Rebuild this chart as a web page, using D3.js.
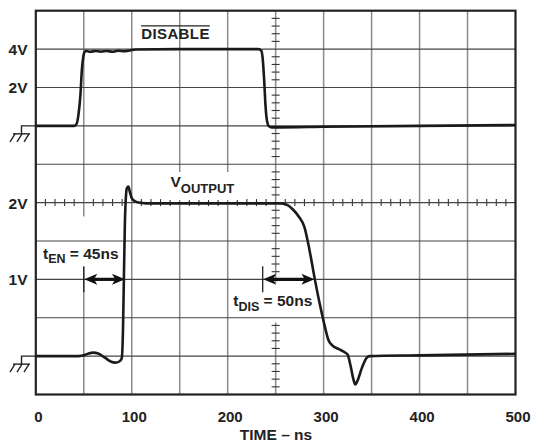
<!DOCTYPE html>
<html>
<head>
<meta charset="utf-8">
<script src="https://cdn.jsdelivr.net/npm/d3@7"></script>
<style>
  html, body { margin: 0; padding: 0; background: #fff; }
  svg { display: block; }
  text { font-family: "Liberation Sans", Arial, Helvetica, sans-serif; font-weight: bold; fill: #222; }
</style>
</head>
<body>
<div id="chart"></div>
<script>
// ---------------- DATA ----------------
const timeTicks = [0, 100, 200, 300, 400, 500];            // ns
const gridTimes = [50, 100, 150, 200, 250, 300, 350, 400, 450];

// DISABLE trace (top, 2 V/div)
const disableTime = [0, 40, 42.5, 44.5, 46.5, 48, 49.5, 51, 53, 57, 62, 68, 74, 80, 86, 92, 98, 104, 150, 232, 235, 236.5, 238, 239.5, 241, 243, 246, 253, 300, 400, 500];
const disableVolt = [0, 0, 0.1, 0.6, 1.6, 2.9, 3.6, 3.86, 3.9, 3.86, 3.9, 3.87, 3.9, 3.86, 3.91, 3.89, 3.93, 3.98, 4.0, 4.0, 3.92, 3.5, 2.4, 1.0, 0.25, -0.02, -0.08, -0.08, -0.05, 0.0, 0.04];

// VOUTPUT trace (bottom, 0.5 V/div)
const outputTime = [0, 45, 50, 55, 60, 65, 72, 78, 83, 87, 89.5, 90.8, 91.8, 92.8, 93.8, 95, 96.5, 98, 100, 103, 107, 115, 200, 255, 262, 268, 274, 280, 285, 291, 297, 301, 305, 309, 316, 322, 325, 328, 331, 333, 335, 340, 345, 348, 400, 500];
const outputVolt = [0, 0, 0.01, 0.035, 0.045, 0.035, -0.02, -0.07, -0.085, -0.07, -0.03, 0.3, 1.0, 1.7, 2.05, 2.19, 2.21, 2.14, 2.06, 2.02, 2.0, 1.99, 1.99, 1.99, 1.97, 1.91, 1.82, 1.68, 1.4, 0.99, 0.62, 0.4, 0.21, 0.14, 0.09, 0.05, 0.02, -0.12, -0.3, -0.37, -0.33, -0.15, -0.02, 0.0, 0.01, 0.03];

const topVLabels = ["4V", "2V"];
const topVValues = [4, 2];
const botVLabels = ["2V", "1V"];
const botVValues = [2, 1];

const annoNames = ["EN", "DIS"];
const annoValues = ["= 45ns", "= 50ns"];
const annoStart = [50, 236.5];   // ns
const annoEnd = [93.5, 291];     // ns
const annoLevel = [1, 1];        // V on output trace

const titleTop = "DISABLE";
const xTitle = "TIME – ns";

// ---------------- LAYOUT ----------------
const W = 533, H = 442;
const L = 35.8, R = 515.5, T = 10.7, B = 394.5;

const svg = d3.select("#chart").append("svg").attr("width", W).attr("height", H);

const x = d3.scaleLinear().domain([0, 500]).range([L, R]);
const div = d3.scaleLinear().domain([0, 10]).range([T, B]);
// top trace: ground at division 3, 2 V/div
const yTop = d3.scaleLinear().domain([0, 2]).range([div(3), div(2)]);
// bottom trace: ground at division 9, 0.5 V/div
const yOut = d3.scaleLinear().domain([0, 0.5]).range([div(9), div(8)]);

const gGrid = svg.append("g");

// vertical grid lines
gGrid.selectAll("line.v").data(gridTimes).join("line")
  .attr("x1", d => x(d)).attr("x2", d => x(d))
  .attr("y1", T).attr("y2", B)
  .attr("stroke", "#8a8a8a").attr("stroke-width", 1.5);

// minor ticks on centre vertical (t=250), 5 per division
const vTicks = d3.range(0, 10.001, 0.2).filter(d => Math.abs(d - Math.round(d)) > 1e-6);
gGrid.selectAll("line.vt").data(vTicks).join("line")
  .attr("x1", x(250) - 4).attr("x2", x(250) + 4)
  .attr("y1", d => div(d)).attr("y2", d => div(d))
  .attr("stroke", "#333").attr("stroke-width", 1.1);

// minor ticks on centre horizontal (division 5), every 10 ns
const hTicks = d3.range(0, 500.001, 10).filter(d => d % 50 !== 0);
gGrid.selectAll("line.ht").data(hTicks).join("line")
  .attr("x1", d => x(d)).attr("x2", d => x(d))
  .attr("y1", div(5) - 3.5).attr("y2", div(5) + 3.5)
  .attr("stroke", "#333").attr("stroke-width", 1.1);

// gaps in vertical lines near annotation labels
gGrid.append("rect").attr("x", x(50) - 4).attr("width", 8)
  .attr("y", yOut(1.82)).attr("height", yOut(1.16) - yOut(1.82)).attr("fill", "#fff");
gGrid.append("rect").attr("x", x(250) - 6).attr("width", 12)
  .attr("y", yOut(0.95)).attr("height", yOut(0.44) - yOut(0.95)).attr("fill", "#fff");

// horizontal grid lines
gGrid.selectAll("line.h").data(d3.range(1, 10)).join("line")
  .attr("x1", L).attr("x2", R)
  .attr("y1", d => div(d)).attr("y2", d => div(d))
  .attr("stroke", "#444").attr("stroke-width", 1.1);

// frame
svg.append("rect").attr("x", L).attr("y", T).attr("width", R - L).attr("height", B - T)
  .attr("fill", "none").attr("stroke", "#222").attr("stroke-width", 2.2);

// ground symbols
function ground(y0) {
  const g = svg.append("g").attr("stroke", "#222").attr("stroke-width", 1.4).attr("fill", "none");
  g.append("path").attr("d", `M${L},${y0}H21.5V${y0 + 8}`);
  g.append("path").attr("d", `M13,${y0 + 8}H30`);
  [15, 22, 29].forEach(xx => g.append("path").attr("d", `M${xx},${y0 + 8}L${xx - 5},${y0 + 16}`));
}
ground(yTop(0));
ground(yOut(0));

// x axis
const xAxis = d3.axisBottom(x).tickValues(timeTicks).tickSize(0).tickPadding(0);
const ax = svg.append("g").attr("transform", `translate(2,${B + 17})`).call(xAxis);
ax.select(".domain").remove();
ax.selectAll("text").attr("font-size", 15).attr("font-family", null).attr("fill", "#222")
  .attr("font-weight", "bold");
svg.append("text").attr("x", 276).attr("y", 440).attr("text-anchor", "middle")
  .attr("font-size", 15.5).text(xTitle);

// y labels
svg.selectAll("text.yt").data(topVValues).join("text")
  .attr("x", 27.5).attr("y", d => yTop(d) + 6).attr("text-anchor", "end")
  .attr("font-size", 15.5).text((d, i) => topVLabels[i]);
svg.selectAll("text.yb").data(botVValues).join("text")
  .attr("x", 27.5).attr("y", d => yOut(d) + 6).attr("text-anchor", "end")
  .attr("font-size", 15.5).text((d, i) => botVLabels[i]);

// DISABLE title with overline
const dt = svg.append("text").attr("x", 175.5).attr("y", 39.3).attr("text-anchor", "middle")
  .attr("font-size", 15).attr("letter-spacing", 0.4).text(titleTop);
const db = dt.node().getBBox();
svg.append("line").attr("x1", db.x).attr("x2", db.x + db.width)
  .attr("y1", 25.8).attr("y2", 25.8).attr("stroke", "#222").attr("stroke-width", 1.3);

// VOUTPUT label with white background
svg.append("rect").attr("x", 168).attr("y", 172).attr("width", 72).attr("height", 28).attr("fill", "#fff");
const vo = svg.append("text").attr("x", 170.5).attr("y", 186.7).attr("font-size", 15.5);
vo.append("tspan").text("V");
vo.append("tspan").attr("dy", 6).attr("font-size", 13).text("OUTPUT");

// traces
const line = (ys) => d3.line().x(d => x(d[0])).y(d => ys(d[1])).curve(d3.curveMonotoneX);
svg.append("path").datum(disableTime.map((t, i) => [t, disableVolt[i]]))
  .attr("d", line(yTop)).attr("fill", "none").attr("stroke", "#1a1a1a")
  .attr("stroke-width", 2.6).attr("stroke-linejoin", "round");
svg.append("path").datum(outputTime.map((t, i) => [t, outputVolt[i]]))
  .attr("d", line(yOut)).attr("fill", "none").attr("stroke", "#1a1a1a")
  .attr("stroke-width", 2.6).attr("stroke-linejoin", "round");

// annotation labels
const labelPos = [[43, yOut(1.27)], [233.3, yOut(0.65)]];
annoNames.forEach((nm, i) => {
  const g = svg.append("g");
  const bg = g.append("rect").attr("fill", "#fff");
  const t = g.append("text").attr("x", labelPos[i][0]).attr("y", labelPos[i][1]).attr("font-size", 15.5);
  t.append("tspan").text("t");
  t.append("tspan").attr("dy", 4.5).attr("font-size", 12.5).text(nm);
  t.append("tspan").attr("dy", -4.5).text(" " + annoValues[i]);
  const b = t.node().getBBox();
  bg.attr("x", b.x - 1.5).attr("y", b.y).attr("width", b.width + 3).attr("height", b.height);
});

// arrows
function arrowHead(xTip, y, dir) {
  const len = 13, hw = 5.5;
  svg.append("path")
    .attr("d", `M${xTip},${y}L${xTip + dir * len},${y - hw}L${xTip + dir * len * 0.75},${y}L${xTip + dir * len},${y + hw}Z`)
    .attr("fill", "#111");
}
annoStart.forEach((s, i) => {
  const y = yOut(annoLevel[i]);
  const xa = x(s), xb = x(annoEnd[i]);
  svg.append("line").attr("x1", xa).attr("x2", xa).attr("y1", y - 13).attr("y2", y + 13)
    .attr("stroke", "#222").attr("stroke-width", 1.3);
  svg.append("line").attr("x1", xa + 6).attr("x2", xb - 6).attr("y1", y).attr("y2", y)
    .attr("stroke", "#111").attr("stroke-width", 3.2);
  arrowHead(xa + 0.5, y, 1);
  arrowHead(xb - 0.5, y, -1);
});
</script>
</body>
</html>
